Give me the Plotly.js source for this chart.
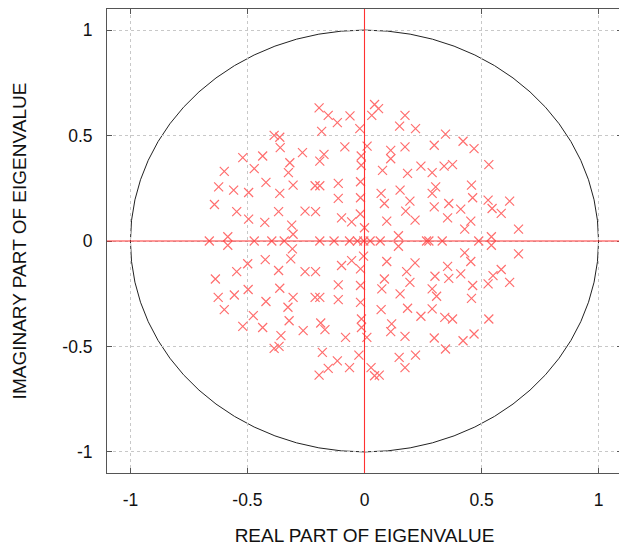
<!DOCTYPE html>
<html>
<head>
<meta charset="utf-8">
<script src="https://cdn.plot.ly/plotly-3.0.1.min.js"></script>
<style>html,body{margin:0;padding:0;overflow:hidden;background:#fff;}</style>
</head>
<body>
<div id="chart"></div>
<script>
// Eigenvalues
const eigReal = [
  -0.194,-0.155,-0.116,-0.062,-0.020,-0.183,-0.386,-0.362,-0.360,-0.084,
  -0.520,-0.435,-0.265,-0.173,-0.191,-0.319,-0.471,-0.599,-0.325,-0.014,
  -0.014,0.043,0.060,0.031,0.173,0.150,0.218,0.346,0.421,0.468,
  0.298,0.173,0.112,0.112,0.011,0.531,0.241,0.340,0.376,0.289,
  0.184,0.077,-0.623,-0.559,-0.495,-0.421,-0.362,-0.305,-0.211,-0.191,
  -0.112,-0.112,-0.017,-0.017,-0.641,-0.546,-0.495,-0.426,-0.367,-0.311,
  -0.305,-0.254,-0.209,-0.098,-0.055,-0.018,0.000,0.071,0.152,0.194,
  0.085,0.289,0.304,0.457,0.462,0.298,0.360,0.411,0.528,0.545,
  0.584,0.620,0.658,0.176,0.216,0.355,0.454,0.428,0.095,
  -0.308,-0.315,-0.424,-0.499,-0.546,-0.637,-0.367,-0.254,-0.209,-0.098,
  -0.055,-0.017,-0.497,-0.362,-0.112,-0.017,-0.625,-0.556,-0.421,-0.305,
  -0.211,-0.191,-0.112,-0.017,-0.599,-0.327,-0.475,-0.520,-0.435,-0.322,
  -0.262,-0.187,-0.169,-0.081,-0.013,-0.013,-0.357,-0.386,-0.365,-0.180,
  -0.024,-0.116,-0.155,-0.194,-0.064,
  0.071,0.184,0.289,0.241,0.343,0.376,0.531,0.116,0.112,0.010,
  0.173,0.298,0.421,0.468,0.346,0.148,0.218,0.028,0.173,0.043,0.063,
  0.428,0.658,0.454,0.095,0.216,0.180,0.355,0.360,0.301,0.411,
  0.194,0.085,0.074,0.152,0.289,0.308,0.462,0.457,0.528,0.549,
  0.584,0.620,-0.004,
  -0.584,-0.584,0.145,0.145,0.542,0.542,
  -0.663,-0.471,-0.396,-0.343,-0.191,-0.130,-0.064,-0.030,-0.003,0.024,
  0.067,0.265,0.275,0.332,0.488
];
const eigImag = [
  0.631,0.596,0.561,0.593,0.533,0.520,0.501,0.492,0.443,0.446,
  0.395,0.403,0.419,0.411,0.379,0.371,0.343,0.330,0.324,0.403,
  0.359,0.647,0.628,0.596,0.596,0.545,0.533,0.507,0.473,0.438,
  0.454,0.446,0.430,0.390,0.450,0.362,0.355,0.355,0.362,0.324,
  0.321,0.335,0.257,0.241,0.230,0.278,0.226,0.265,0.262,0.262,
  0.273,0.202,0.281,0.205,0.173,0.139,0.104,0.088,0.139,0.075,
  0.032,0.142,0.139,0.110,0.091,0.128,0.063,0.226,0.241,0.189,
  0.178,0.226,0.257,0.265,0.205,0.162,0.178,0.151,0.194,0.154,
  0.131,0.189,0.056,0.142,0.099,0.110,0.094,0.056,0.094,
  -0.037,-0.085,-0.088,-0.108,-0.145,-0.180,-0.140,-0.145,-0.145,-0.116,
  -0.093,-0.132,-0.230,-0.224,-0.208,-0.211,-0.267,-0.256,-0.287,-0.267,
  -0.267,-0.267,-0.278,-0.291,-0.325,-0.314,-0.354,-0.405,-0.410,-0.378,
  -0.425,-0.389,-0.420,-0.457,-0.370,-0.410,-0.449,-0.509,-0.500,-0.528,
  -0.541,-0.568,-0.604,-0.636,-0.600,
  -0.325,-0.319,-0.322,-0.357,-0.362,-0.370,-0.370,-0.393,-0.430,-0.457,
  -0.452,-0.460,-0.473,-0.441,-0.512,-0.552,-0.541,-0.600,-0.600,-0.639,-0.636,
  -0.056,-0.061,-0.097,-0.097,-0.104,-0.145,-0.120,-0.177,-0.167,-0.156,
  -0.196,-0.180,-0.227,-0.251,-0.227,-0.262,-0.211,-0.272,-0.203,-0.164,
  -0.135,-0.196,-0.072,
  0.020,-0.020,0.025,-0.025,0.020,-0.020,
  0,0,0,0,0,0,0,0,0,0,
  0,0,0,0,0
];
const tickVals = [-1, -0.5, 0, 0.5, 1];
const tickText = ['-1', '-0.5', '0', '0.5', '1'];
const xTitle = 'REAL PART OF EIGENVALUE';
const yTitle = 'IMAGINARY PART OF EIGENVALUE';

const FONT = 'Liberation Sans, Arial, sans-serif';
const AXISRED = 'rgb(255,50,50)';

const trace = {
  x: eigReal, y: eigImag, type: 'scatter', mode: 'markers',
  marker: {symbol: 'x-thin-open', size: 9, color: 'rgb(255,110,110)', line: {width: 1.2, color: 'rgb(255,110,110)'}},
  hoverinfo: 'x+y', showlegend: false
};

const axisCommon = {
  range: [-1.1, 1.1], tickvals: tickVals, ticktext: tickText,
  ticks: 'inside', ticklen: 5, tickcolor: '#555', tickwidth: 1,
  showline: true, linecolor: '#555', linewidth: 1, mirror: 'ticks',
  showgrid: true, gridcolor: '#c8c8c8', griddash: 'dot', gridwidth: 1,
  zeroline: false,
  tickfont: {family: FONT, size: 17.5, color: '#111'},
  fixedrange: true, automargin: false
};

const layout = {
  width: 623, height: 546,
  margin: {l: 107, r: 1, t: 9, b: 73},
  paper_bgcolor: '#fff', plot_bgcolor: '#fff',
  xaxis: Object.assign({}, axisCommon, {
    ticklabelstandoff: 11,
    title: {text: xTitle, standoff: 24, font: {family: FONT, size: 19, color: '#111'}}
  }),
  yaxis: Object.assign({}, axisCommon, {
    ticklabelstandoff: 10,
    title: {text: yTitle, standoff: 30, font: {family: FONT, size: 19, color: '#111'}}
  }),
  shapes: [
    {type: 'circle', xref: 'x', yref: 'y', x0: -1, y0: -1, x1: 1, y1: 1,
     line: {color: '#222', width: 1}, layer: 'below'},
    // real and imaginary axes (the lines x = 0 and y = 0 across the plot)
    {type: 'line', xref: 'paper', yref: 'y', x0: 0, x1: 1, y0: 0, y1: 0,
     line: {color: AXISRED, width: 1.1}, layer: 'above'},
    {type: 'line', xref: 'x', yref: 'paper', x0: 0, x1: 0, y0: 0, y1: 1,
     line: {color: AXISRED, width: 1.1}, layer: 'above'}
  ]
};

Plotly.newPlot('chart', [trace], layout, {displayModeBar: false, staticPlot: true});
</script>
</body>
</html>
